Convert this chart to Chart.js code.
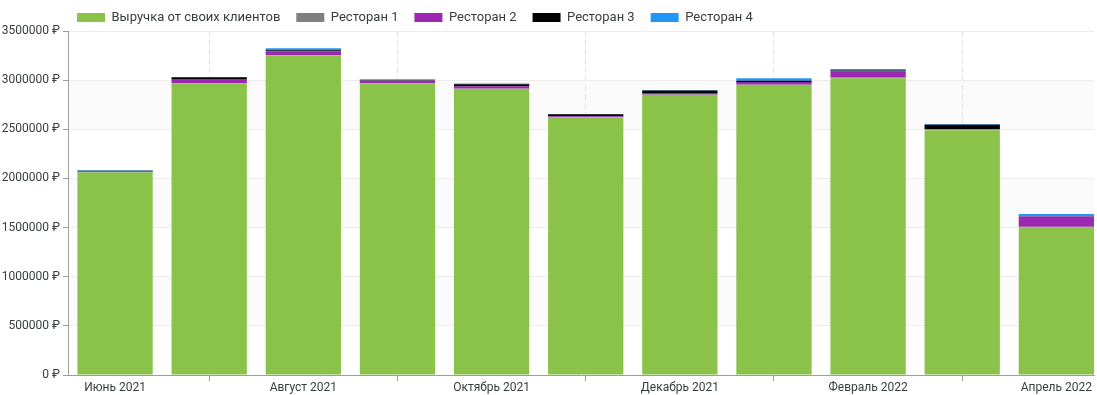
<!DOCTYPE html>
<html>
<head>
<meta charset="utf-8">
<script src="https://cdn.jsdelivr.net/npm/chart.js@4.4.1/dist/chart.umd.min.js"></script>
<style>
html,body{margin:0;padding:0;background:#fff;}
#wrap{width:1097px;height:395px;position:relative;}
</style>
</head>
<body>
<div id="wrap"><canvas id="c" width="1097" height="395"></canvas></div>
<script>
const categories = ["Июнь 2021","Июль 2021","Август 2021","Сентябрь 2021","Октябрь 2021","Ноябрь 2021","Декабрь 2021","Январь 2022","Февраль 2022","Март 2022","Апрель 2022"];
const ownClients = [2060000,2965000,3250000,2965000,2910000,2620000,2850000,2950000,3020000,2490000,1500000];
const restaurant1 = [5000,7000,5000,5000,5000,5000,5000,5000,8000,8000,8000];
const restaurant2 = [5000,40000,40000,25000,22000,8000,15000,25000,60000,5000,105000];
const restaurant3 = [8000,17000,10000,3000,22000,20000,25000,15000,10000,43000,3000];
const restaurant4 = [5000,3000,20000,12000,8000,2000,5000,25000,15000,8000,22000];
const yTicks = [0,500000,1000000,1500000,2000000,2500000,3000000,3500000];
const seriesNames = ["Выручка от своих клиентов","Ресторан 1","Ресторан 2","Ресторан 3","Ресторан 4"];
const seriesColors = ["#8bc34a","#808080","#9c27b0","#000000","#2196f3"];
const seriesValues = [ownClients,restaurant1,restaurant2,restaurant3,restaurant4];

const TEXT = '#373d3f';
const toPoints = arr => arr.map((v,i)=>({x:i,y:v}));

const bandsPlugin = {
  id:'bands',
  beforeDraw(chart){
    const {ctx, chartArea, scales:{y}} = chart;
    ctx.save();
    ctx.fillStyle = '#fbfbfb';
    for (let i=0;i<yTicks.length-1;i++){
      if ((yTicks.length-2-i)%2===1){
        const top = y.getPixelForValue(yTicks[i+1]);
        const bot = y.getPixelForValue(yTicks[i]);
        ctx.fillRect(chartArea.left, top, chartArea.right-chartArea.left, bot-top);
      }
    }
    ctx.restore();
  }
};
const legendShift = {
  id:'legendShift',
  afterLayout(chart){ if(chart.legend){ chart.legend.left -= 7; chart.legend.right -= 7; } }
};

new Chart(document.getElementById('c'), {
  type:'bar',
  data:{
    datasets: seriesNames.map((n,k)=>({
      label:n,
      data:toPoints(seriesValues[k]),
      backgroundColor:seriesColors[k],
      borderWidth:0,
      barPercentage:0.8,
      categoryPercentage:1.0
    }))
  },
  options:{
    responsive:false,
    animation:false,
    devicePixelRatio:1,
    layout:{padding:{top:-5,right:3,left:0,bottom:-5}},
    plugins:{
      legend:{
        position:'top', align:'start', fullSize:false, maxHeight:36,
        labels:{boxWidth:28, boxHeight:9, padding:16, color:TEXT, font:{family:'Roboto', size:13}}
      },
      tooltip:{enabled:false}
    },
    scales:{
      x:{
        type:'linear', stacked:true, min:-0.5, max:10.4, offset:false,
        afterBuildTicks(scale){ scale.ticks = categories.map((c,i)=>({value:i})); },
        afterFit(scale){ scale.height = 25; },
        ticks:{
          autoSkip:false, maxRotation:0, padding:0, color:TEXT, font:{family:'Roboto', size:12},
          callback:(v)=> (v%2===0 ? categories[v] : '')
        },
        grid:{
          offset:false, tickLength:6,
          color:ctx=> (ctx.tick && ctx.tick.value%2===1) ? '#e3e3e3' : 'rgba(0,0,0,0)',
          tickColor:ctx=> (ctx.tick && ctx.tick.value%2===1) ? '#9e9e9e' : 'rgba(0,0,0,0)'
        },
        border:{display:true, color:'#9e9e9e', width:1, dash:[6,3]}
      },
      y:{
        stacked:true, min:0, max:3500000,
        afterBuildTicks(scale){ scale.ticks = yTicks.map(v=>({value:v})); },
        afterFit(scale){ scale.width = 68; },
        ticks:{padding:3, color:TEXT, font:{family:'Roboto', size:12}, callback:v=> v+' ₽'},
        grid:{color:'#ececec', tickLength:5, tickColor:'#9e9e9e'},
        border:{display:true, color:'#9e9e9e', width:1}
      }
    }
  },
  plugins:[bandsPlugin, legendShift]
});
</script>
</body>
</html>
